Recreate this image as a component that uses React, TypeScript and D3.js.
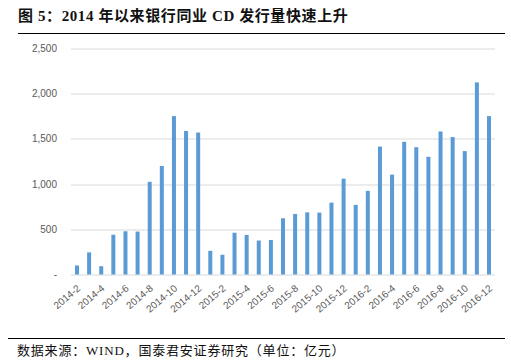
import React, { useEffect, useRef } from 'react';
import * as d3 from 'd3';

const months = [
  '2014-2', '2014-3', '2014-4', '2014-5', '2014-6', '2014-7', '2014-8', '2014-9', '2014-10', '2014-11', '2014-12',
  '2015-1', '2015-2', '2015-3', '2015-4', '2015-5', '2015-6', '2015-7', '2015-8', '2015-9', '2015-10', '2015-11', '2015-12',
  '2016-1', '2016-2', '2016-3', '2016-4', '2016-5', '2016-6', '2016-7', '2016-8', '2016-9', '2016-10', '2016-11', '2016-12',
];
const issuance = [
  100, 245, 92, 440, 478, 475, 1025, 1200, 1752, 1588, 1570,
  262, 218, 462, 438, 376, 382, 622, 670, 688, 685, 795, 1060,
  770, 925, 1415, 1105, 1468, 1408, 1302, 1582, 1520, 1365, 2125, 1752,
];
const yTicks = [0, 500, 1000, 1500, 2000, 2500];

const title = '图 5：2014 年以来银行同业 CD 发行量快速上升';
const source = '数据来源：WIND，国泰君安证券研究（单位：亿元）';

const App = () => {
  const svgRef = useRef<SVGSVGElement>(null);

  useEffect(() => {
    const svg = d3.select(svgRef.current);
    svg.selectAll('*').remove();

    const width = 511;
    const height = 363;
    const margin = { top: 48.5, right: 16, bottom: 88.5, left: 71 };
    const innerWidth = width - margin.left - margin.right;
    const innerHeight = height - margin.top - margin.bottom;

    const cjk = '"Noto Sans CJK SC", sans-serif';
    const latin = '"Liberation Sans", Calibri, "Noto Sans", sans-serif';

    // title + rule
    svg.append('text')
      .attr('x', 18)
      .attr('y', 21)
      .attr('font-family', `"Liberation Serif", ${cjk}`)
      .attr('font-weight', 'bold')
      .attr('font-size', 15)
      .attr('letter-spacing', 0.6)
      .attr('fill', '#111')
      .text(title);
    svg.append('line')
      .attr('x1', 18).attr('x2', 505)
      .attr('y1', 33.5).attr('y2', 33.5)
      .attr('stroke', '#000')
      .attr('stroke-width', 1.2);

    const x = d3.scaleBand()
      .domain(months)
      .range([0, innerWidth])
      .paddingInner(0.67)
      .paddingOuter(0.33);

    const y = d3.scaleLinear()
      .domain([0, 2500])
      .range([innerHeight, 0]);

    const chartGroup = svg.append('g')
      .attr('transform', `translate(${margin.left},${margin.top})`);

    // gridlines
    chartGroup.selectAll('line.grid')
      .data(yTicks)
      .enter()
      .append('line')
      .attr('class', 'grid')
      .attr('x1', 0)
      .attr('x2', innerWidth)
      .attr('y1', d => Math.round(y(d)) + 0.5)
      .attr('y2', d => Math.round(y(d)) + 0.5)
      .attr('stroke', '#d9d9d9')
      .attr('stroke-width', 1);

    // y labels
    chartGroup.selectAll('text.ylab')
      .data(yTicks)
      .enter()
      .append('text')
      .attr('class', 'ylab')
      .attr('x', -14)
      .attr('y', d => y(d))
      .attr('dy', '0.35em')
      .attr('text-anchor', 'end')
      .attr('font-family', latin)
      .attr('font-size', 10)
      .attr('fill', '#595959')
      .text(d => (d === 0 ? '-' : d3.format(',')(d)));

    // bars
    chartGroup.selectAll('rect.bar')
      .data(issuance)
      .enter()
      .append('rect')
      .attr('class', 'bar')
      .attr('x', (d, i) => x(months[i])!)
      .attr('width', x.bandwidth())
      .attr('y', d => y(d))
      .attr('height', d => innerHeight - y(d))
      .attr('fill', '#5b9bd5');

    // x labels, every other month
    chartGroup.selectAll('text.xlab')
      .data(months.filter((m, i) => i % 2 === 0))
      .enter()
      .append('text')
      .attr('class', 'xlab')
      .attr('transform', d => `translate(${x(d)! + x.bandwidth() / 2 + 4},${innerHeight + 15}) rotate(-40)`)
      .attr('text-anchor', 'end')
      .attr('font-family', latin)
      .attr('font-size', 10)
      .attr('fill', '#595959')
      .text(d => d);

    // bottom rule + source
    svg.append('line')
      .attr('x1', 8).attr('x2', 505)
      .attr('y1', 338.5).attr('y2', 338.5)
      .attr('stroke', '#000')
      .attr('stroke-width', 1.2);
    svg.append('text')
      .attr('x', 17)
      .attr('y', 355)
      .attr('font-family', `"Liberation Serif", ${cjk}`)
      .attr('font-size', 13)
      .attr('letter-spacing', 0.8)
      .attr('fill', '#111')
      .text(source);
  }, []);

  return (
    <svg ref={svgRef} width="511" height="363" style={{ position: 'absolute', left: 0, top: 0 }}></svg>
  );
};

export default App;
